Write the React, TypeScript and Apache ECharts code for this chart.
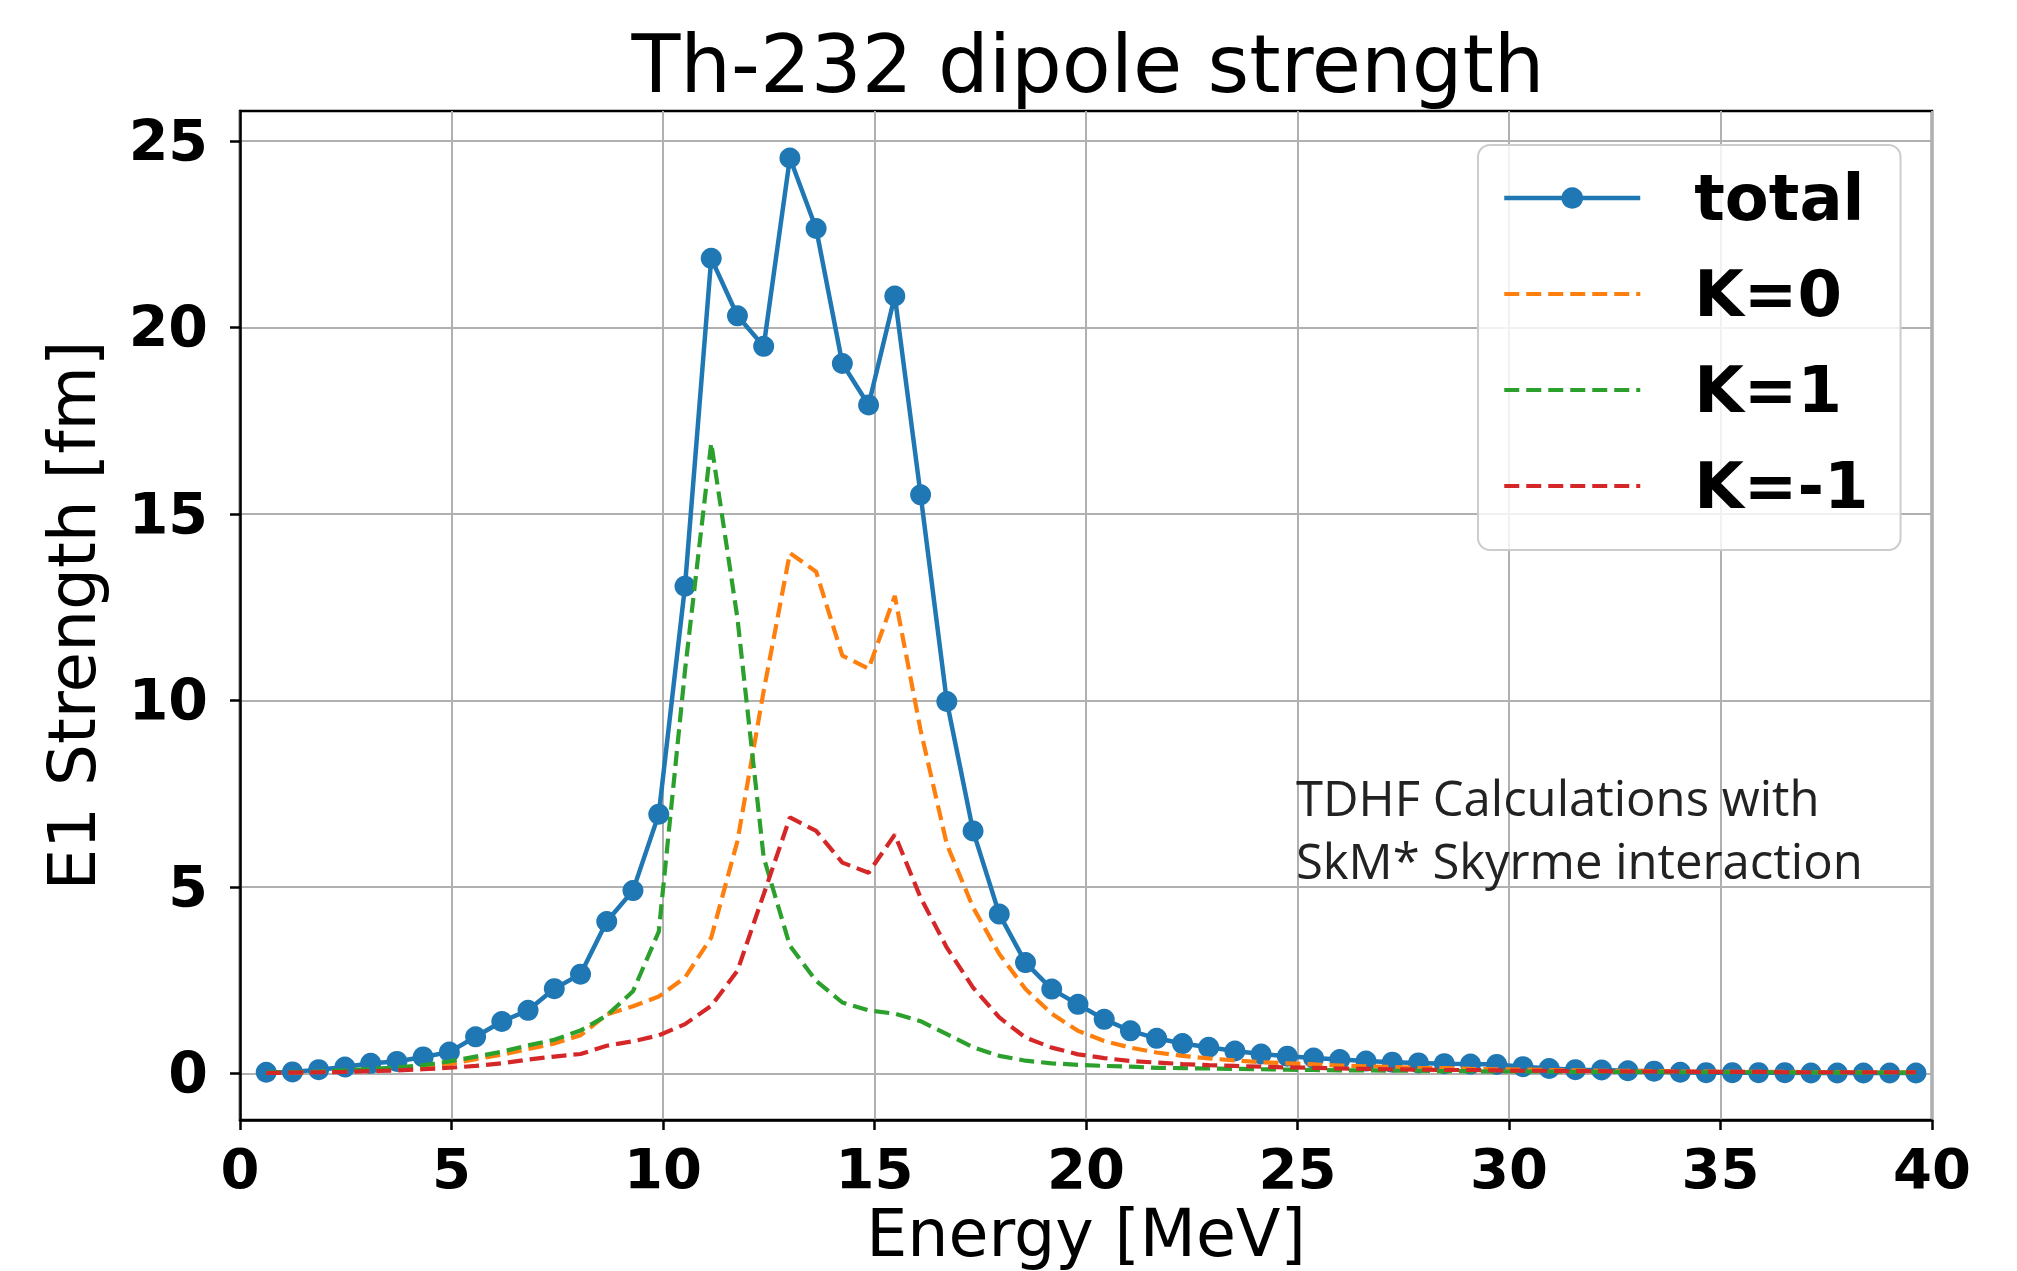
import React, { useEffect, useRef } from "react";
import * as echarts from "echarts";

// Energy grid [MeV]
const energies = [
  0.62, 1.24, 1.86, 2.48, 3.09, 3.71, 4.33, 4.95, 5.57, 6.19, 6.81, 7.43, 8.05, 8.67, 9.29, 9.9,
  10.52, 11.14, 11.76, 12.38, 13.0, 13.62, 14.24, 14.86, 15.48, 16.09, 16.71, 17.33, 17.95, 18.57,
  19.19, 19.81, 20.43, 21.05, 21.67, 22.28, 22.9, 23.52, 24.14, 24.76, 25.38, 26.0, 26.62, 27.24,
  27.86, 28.47, 29.09, 29.71, 30.33, 30.95, 31.57, 32.19, 32.81, 33.43, 34.05, 34.66, 35.28, 35.9,
  36.52, 37.14, 37.76, 38.38, 39.0, 39.62,
];

// E1 strength [fm]
const totalStrength = [
  0.03, 0.04, 0.1, 0.17, 0.27, 0.32, 0.44, 0.57, 0.98, 1.39, 1.69, 2.27, 2.66, 4.07, 4.9, 6.95,
  13.06, 21.85, 20.31, 19.49, 24.54, 22.65, 19.03, 17.92, 20.84, 15.51,
  9.97, 6.5, 4.27, 2.97, 2.26, 1.85, 1.45, 1.14, 0.94, 0.8,
  0.7, 0.6, 0.52, 0.46, 0.41, 0.37, 0.33, 0.3, 0.28, 0.26, 0.25, 0.24,
  0.18, 0.13, 0.1, 0.09, 0.07, 0.06, 0.03, 0.02, 0.02, 0.02, 0.02, 0.01, 0.01, 0.01, 0.01, 0.01,
];

const k0Strength = [
  0.01, 0.02, 0.04, 0.06, 0.09, 0.12, 0.17, 0.25, 0.38, 0.5, 0.65, 0.8, 1.02, 1.58, 1.8, 2.06,
  2.57, 3.64, 6.23, 10.25, 13.95, 13.45, 11.2, 10.85, 12.8, 9.2,
  6.14, 4.45, 3.2, 2.26, 1.6, 1.14, 0.87, 0.69, 0.56, 0.47,
  0.4, 0.35, 0.3, 0.27, 0.24, 0.21, 0.19, 0.17, 0.15, 0.14, 0.12, 0.11,
  0.1, 0.09, 0.08, 0.07, 0.07, 0.06, 0.05, 0.05, 0.04, 0.04, 0.04, 0.03, 0.03, 0.03, 0.03, 0.03,
];

const k1Strength = [
  0.02, 0.03, 0.05, 0.08, 0.12, 0.16, 0.22, 0.32, 0.45, 0.58, 0.75, 0.9, 1.15, 1.55, 2.2, 3.8,
  10.8, 16.9, 12.2, 5.79, 3.42, 2.48, 1.9, 1.69, 1.6, 1.4,
  1.05, 0.7, 0.47, 0.34, 0.27, 0.23, 0.2, 0.18, 0.15, 0.14,
  0.13, 0.12, 0.11, 0.1, 0.09, 0.08, 0.08, 0.07, 0.07, 0.06, 0.06, 0.05,
  0.05, 0.05, 0.04, 0.04, 0.04, 0.04, 0.03, 0.03, 0.03, 0.03, 0.03, 0.02, 0.02, 0.02, 0.02, 0.02,
];

const km1Strength = [
  0.01, 0.02, 0.03, 0.04, 0.06, 0.08, 0.11, 0.15, 0.2, 0.27, 0.37, 0.45, 0.52, 0.74, 0.86, 1.02,
  1.32, 1.81, 2.75, 4.8, 6.86, 6.5, 5.65, 5.38, 6.4, 4.71,
  3.37, 2.3, 1.5, 0.96, 0.69, 0.51, 0.41, 0.33, 0.29, 0.25,
  0.22, 0.2, 0.18, 0.16, 0.15, 0.13, 0.12, 0.11, 0.1, 0.09, 0.09, 0.08,
  0.07, 0.07, 0.06, 0.06, 0.05, 0.05, 0.05, 0.04, 0.04, 0.04, 0.03, 0.03, 0.03, 0.03, 0.03, 0.03,
];

const yTicks = [0, 5, 10, 15, 20, 25];
const seriesNames = ["total", "K=0", "K=1", "K=-1"];
const seriesColors = ["#1f77b4", "#ff7f0e", "#2ca02c", "#d62728"];

const FONT = "DejaVu Sans";

export default function App() {
  const ref = useRef<HTMLDivElement>(null);

  useEffect(() => {
    if (!ref.current) return;
    const chart = echarts.init(ref.current, null, { renderer: "svg" });
    const pairs = (ys: number[]) => energies.map((x, i) => [x, ys[i]]);
    const dashed = (name: string, color: string, ys: number[]) => ({
      name,
      type: "line",
      data: pairs(ys),
      symbol: "circle",
      symbolSize: 1,
      showSymbol: false,
      lineStyle: { color, width: 4.2, type: [15, 7] },
      itemStyle: { color, opacity: 0 },
      z: 3,
    });

    chart.setOption({
      animation: false,
      backgroundColor: "#ffffff",
      title: {
        text: "Th-232 dipole strength",
        left: 1083,
        top: 19,
        textAlign: "center",
        textStyle: { fontFamily: FONT, fontSize: 80, fontWeight: "normal", color: "#000" },
      },
      legend: {
        orient: "vertical",
        left: 1478,
        top: 145,
        padding: [15, 32, 26, 24],
        itemWidth: 136,
        itemHeight: 27,
        itemGap: 20,
        selectedMode: false,
        backgroundColor: "rgba(255,255,255,0.82)",
        borderColor: "#cccccc",
        borderWidth: 2,
        borderRadius: 12,
        data: seriesNames,
        lineStyle: { width: "inherit" },
        textStyle: {
          fontFamily: FONT,
          fontSize: 64,
          fontWeight: "bold",
          color: "#000",
          lineHeight: 76,
          padding: [0, 0, 0, 49],
        },
        z: 10,
      },
      grid: {
        left: 240,
        right: 85,
        top: 111,
        bottom: 151,
        show: true,
        borderColor: "#000",
        borderWidth: 2.5,
        backgroundColor: "transparent",
        containLabel: false,
        outerBoundsMode: "none",
      },
      xAxis: {
        type: "value",
        min: 0,
        max: 40,
        interval: 5,
        name: "Energy [MeV]",
        nameLocation: "middle",
        nameGap: 77,
        nameTextStyle: { fontFamily: FONT, fontSize: 65, color: "#000" },
        axisLine: { show: true, onZero: false, lineStyle: { color: "#000", width: 2.5 } },
        axisTick: { show: true, inside: false, length: 10, lineStyle: { color: "#000", width: 2.5 } },
        axisLabel: { fontFamily: FONT, fontWeight: "bold", fontSize: 56, color: "#000", margin: 20 },
        splitLine: { show: true, lineStyle: { color: "#b0b0b0", width: 2 } },
      },
      yAxis: {
        type: "value",
        min: -1.25,
        max: 25.8,
        minInterval: 5,
        maxInterval: 5,
        name: "E1 Strength [fm]",
        nameLocation: "middle",
        nameRotate: 90,
        nameGap: 135,
        nameTextStyle: { fontFamily: FONT, fontSize: 66, color: "#000" },
        axisLine: { show: true, onZero: false, lineStyle: { color: "#000", width: 2.5 } },
        axisTick: {
          show: true,
          inside: false,
          length: 10,
          customValues: yTicks,
          lineStyle: { color: "#000", width: 2.5 },
        },
        axisLabel: {
          fontFamily: FONT,
          fontWeight: "bold",
          fontSize: 57,
          color: "#000",
          margin: 32,
          customValues: yTicks,
        },
        splitLine: { show: true, lineStyle: { color: "#b0b0b0", width: 2 } },
      },
      graphic: [
        {
          type: "text",
          left: 1296,
          top: 765,
          z: 20,
          style: {
            text: "TDHF Calculations with\nSkM* Skyrme interaction",
            fontFamily: "Open Sans",
            fontSize: 49,
            lineHeight: 63,
            fill: "#222222",
          },
        },
      ],
      series: [
        {
          name: seriesNames[0],
          type: "line",
          data: pairs(totalStrength),
          symbol: "circle",
          symbolSize: 21,
          showSymbol: true,
          lineStyle: { color: seriesColors[0], width: 4.5 },
          itemStyle: { color: seriesColors[0] },
          z: 2,
        },
        dashed(seriesNames[1], seriesColors[1], k0Strength),
        dashed(seriesNames[2], seriesColors[2], k1Strength),
        dashed(seriesNames[3], seriesColors[3], km1Strength),
      ],
    });

    return () => chart.dispose();
  }, []);

  return (
    <div
      ref={ref}
      style={{ position: "absolute", left: 0, top: 0, width: 2017, height: 1271 }}
    />
  );
}
